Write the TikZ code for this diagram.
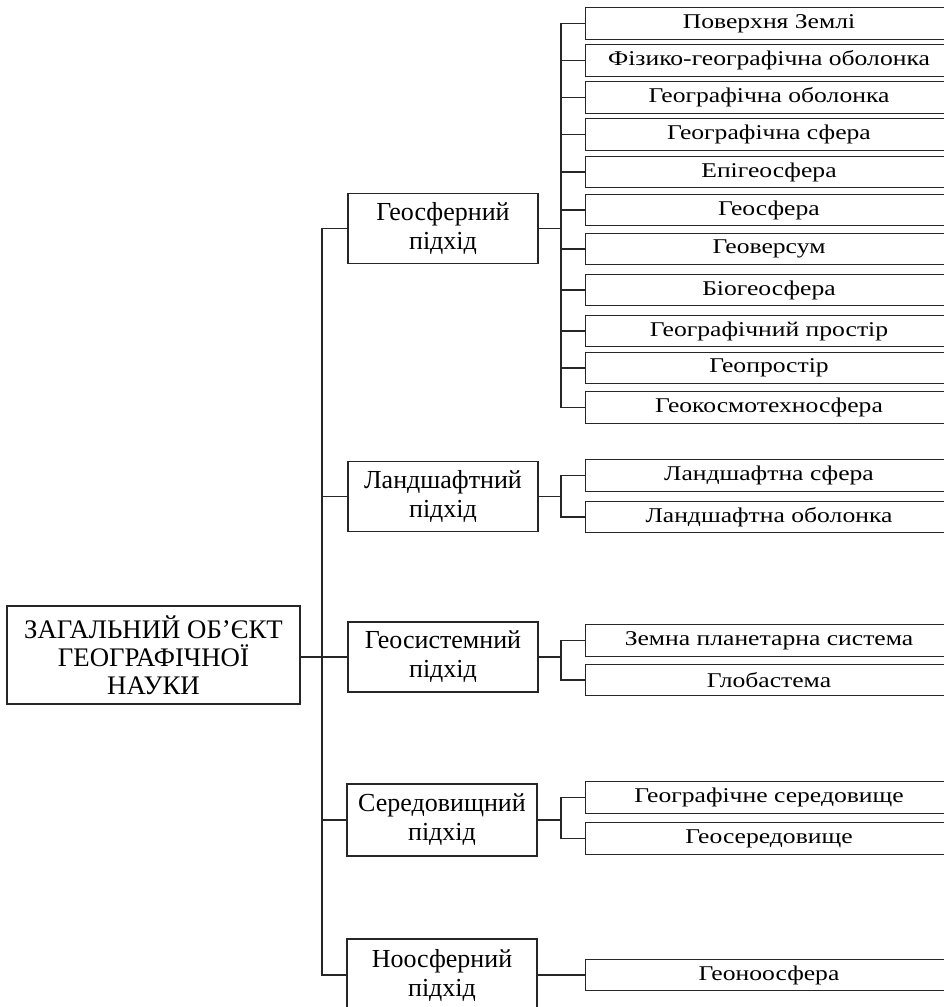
\documentclass[tikz,border=0pt]{standalone}
\usepackage{fontspec}
\setmainfont{Liberation Serif}
\newfontfamily\leaffont[FakeStretch=1.22]{Liberation Serif}
\begin{document}
\begin{tikzpicture}[x=1pt,y=-1pt,
  box/.style={draw=black!85, line width=1.1pt, inner sep=0pt, align=center},
  rootbox/.style={box, minimum width=293pt, minimum height=98pt, font=\fontsize{26.8}{28}\selectfont},
  midbox/.style={box, minimum width=190pt, minimum height=70pt, font=\fontsize{26}{29}\selectfont},
  leafbox/.style={inner sep=0pt, align=center, minimum width=366pt, minimum height=31pt, font=\leaffont\fontsize{21}{24}\selectfont},
  conn/.style={draw=black!85, line width=1.1pt}]
\useasboundingbox (0,0) rectangle (943,1007);
\fill[white] (0,0) rectangle (943,1007);

% root
\node[rootbox] (root) at (153.5,655) {ЗАГАЛЬНИЙ ОБ’ЄКТ\\ГЕОГРАФІЧНОЇ\\НАУКИ};

% middle level
\node[midbox] (geo)  at (443,228.5) {Геосферний\\підхід};
\node[midbox] (land) at (443,496.5) {Ландшафтний\\підхід};
\node[midbox] (sys)  at (443,657) {Геосистемний\\підхід};
\node[midbox, minimum height=72pt] (ser)  at (442,820) {Середовищний\\підхід};
\node[midbox, minimum height=72pt] (noo)  at (442,975) {Ноосферний\\підхід};

% geosphere leaves
\node[leafbox] (g1)  at (769,23.5)  {Поверхня Землі};
\node[leafbox] (g2)  at (769,60.5)  {Фізико-географічна оболонка};
\node[leafbox] (g3)  at (769,97.5)  {Географічна оболонка};
\node[leafbox] (g4)  at (769,134.5) {Географічна сфера};
\node[leafbox] (g5)  at (769,172)   {Епігеосфера};
\node[leafbox] (g6)  at (769,210)   {Геосфера};
\node[leafbox] (g7)  at (769,249)   {Геоверсум};
\node[leafbox] (g8)  at (769,290)   {Біогеосфера};
\node[leafbox] (g9)  at (769,331)   {Географічний простір};
\node[leafbox] (g10) at (769,368)   {Геопростір};
\node[leafbox] (g11) at (769,407.5) {Геокосмотехносфера};

% landscape leaves
\node[leafbox] (l1) at (769,475.5) {Ландшафтна сфера};
\node[leafbox] (l2) at (769,517)   {Ландшафтна оболонка};

% geosystem leaves
\node[leafbox] (s1) at (769,640.5) {Земна планетарна система};
\node[leafbox] (s2) at (769,680)   {Глобастема};

% environment leaves
\node[leafbox] (e1) at (769,797.5) {Географічне середовище};
\node[leafbox] (e2) at (769,838.5) {Геосередовище};

% noosphere leaf
\node[leafbox] (n1) at (769,975) {Геоноосфера};

% leaf frames (they run past the right edge of the picture)
\foreach \n in {g1,g2,g3,g4,g5,g6,g7,g8,g9,g10,g11,l1,l2,s1,s2,e1,e2,n1}
  \draw[conn] ([xshift=30pt]\n.north east) -- (\n.north west) -- (\n.south west) -- ([xshift=30pt]\n.south east);

% main trunk
\coordinate (m) at (322,657);
\draw[conn] (root.east |- m) -- (sys.west);
\draw[conn] (geo.west) -| (m) |- (noo.west);
\draw[conn] (m |- land.west) -- (land.west);
\draw[conn] (m |- ser.west) -- (ser.west);

% geosphere bus
\coordinate (gb) at (561,228.5);
\draw[conn] (geo.east) -- (gb);
\draw[conn] (g1.west) -| (gb) |- (g11.west);
\foreach \i in {2,...,10} { \draw[conn] (gb |- g\i.west) -- (g\i.west); }

% landscape bus
\coordinate (lb) at (561,496.5);
\draw[conn] (land.east) -- (lb);
\draw[conn] (l1.west) -| (lb) |- (l2.west);

% geosystem bus
\coordinate (sb) at (561,657);
\draw[conn] (sys.east) -- (sb);
\draw[conn] (s1.west) -| (sb) |- (s2.west);

% environment bus
\coordinate (eb) at (561,820);
\draw[conn] (ser.east) -- (eb);
\draw[conn] (e1.west) -| (eb) |- (e2.west);

% noosphere
\draw[conn] (noo.east) -- (n1.west);
\end{tikzpicture}
\end{document}
